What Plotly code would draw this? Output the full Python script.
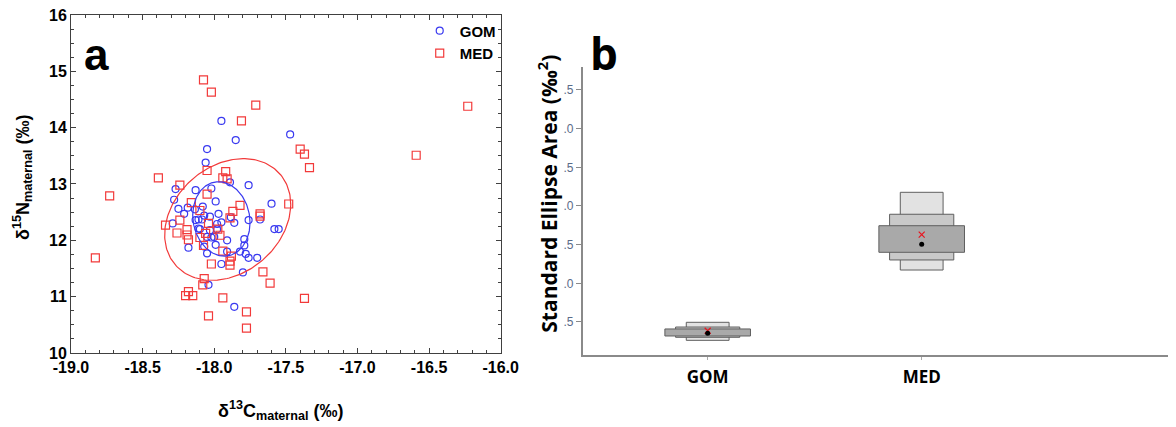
import numpy as np
import plotly.graph_objects as go

# ---- panel a: maternal isotope values ----
gom_d13c = [-17.95, -17.47, -17.85, -18.05, -18.06, -17.76, -17.89, -18.27, -18.13, -18.02,
            -18.28, -18.25, -18.21, -18.185, -18.08, -17.99, -18.29, -18.13, -18.11, -18.07,
            -18.03, -17.97, -17.95, -17.98, -17.86, -17.76, -17.60, -17.58, -17.55, -17.68,
            -18.10, -18.03, -18.05, -18.02, -17.91, -17.99, -18.18, -18.07, -18.05, -17.79,
            -17.79, -17.82, -17.78, -17.76, -17.70, -17.91, -17.95, -17.80, -18.04, -17.86,
            -18.135, -17.884, -18.085, -18.11, -17.98, -18.00]
gom_d15n = [14.12, 13.88, 13.78, 13.62, 13.38, 12.98, 13.03, 12.91, 12.89, 12.92,
            12.72, 12.56, 12.47, 12.58, 12.60, 12.69, 12.30, 12.36, 12.37, 12.44,
            12.42, 12.47, 12.32, 12.29, 12.31, 12.36, 12.65, 12.20, 12.20, 12.37,
            12.20, 12.18, 12.06, 12.05, 12.00, 11.92, 11.87, 11.89, 11.77, 12.02,
            11.91, 11.80, 11.76, 11.69, 11.69, 11.80, 11.58, 11.43, 11.21, 10.82,
            12.55, 12.41, 12.37, 12.21, 12.195, 12.06]

med_d13c = [-18.075, -18.02, -17.71, -17.81, -16.23, -17.40, -17.37, -17.335, -16.59, -18.05,
            -17.92, -17.94, -17.91, -18.39, -18.73, -18.24, -18.05, -18.83, -18.16, -17.82,
            -17.87, -17.89, -18.10, -17.68, -17.68, -17.48, -18.34, -18.24, -18.26, -18.19,
            -18.19, -18.18, -18.04, -17.975, -17.96, -18.06, -18.10, -18.075, -17.94, -17.88,
            -17.89, -17.89, -18.02, -17.66, -17.61, -18.07, -18.08, -18.18, -18.20, -18.15,
            -17.94, -17.37, -18.04, -17.775, -17.775]
med_d15n = [14.85, 14.63, 14.40, 14.12, 14.38, 13.62, 13.53, 13.29, 13.51, 13.24,
            13.22, 13.11, 13.09, 13.11, 12.79, 12.98, 12.82, 11.69, 12.67, 12.62,
            12.515, 12.40, 12.53, 12.47, 12.43, 12.645, 12.27, 12.36, 12.13, 12.19,
            12.095, 12.01, 12.30, 12.20, 12.09, 12.125, 12.05, 11.91, 11.81, 11.72,
            11.63, 11.56, 11.58, 11.44, 11.24, 11.32, 11.21, 11.09, 11.02, 11.02,
            10.98, 10.97, 10.66, 10.73, 10.44]

# standard ellipses: centre, sd on each axis, correlation
gom_ellipse = dict(cx=-17.95, cy=12.38, sx=0.20, sy=0.66, r=-0.10)
med_ellipse = dict(cx=-17.906, cy=12.37, sx=0.44, sy=1.08, r=0.25)

x_ticks = [-19.0, -18.5, -18.0, -17.5, -17.0, -16.5, -16.0]
x_tick_labels = ["-19.0", "-18.5", "-18.0", "-17.5", "-17.0", "-16.5", "-16.0"]
y_ticks = [10, 11, 12, 13, 14, 15, 16]

# ---- panel b: SEA posterior (credible intervals) ----
groups = ["GOM", "MED"]
ci95_low = [0.263, 1.172]
ci95_high = [0.496, 2.177]
ci75_low = [0.302, 1.302]
ci75_high = [0.435, 1.893]
ci50_low = [0.319, 1.401]
ci50_high = [0.410, 1.745]
sea_mode = [0.354, 1.505]
sea_c = [0.387, 1.629]
b_ticks = [0.5, 1.0, 1.5, 2.0, 2.5, 3.0, 3.5]
b_tick_labels = [".5", ".0", ".5", ".0", ".5", ".0", ".5"]

BLUE = "#3a3af0"
RED = "#f23a3a"
BOLD = "Liberation Sans"


def ellipse_xy(e, n=200):
    t = np.linspace(0, 2 * np.pi, n)
    x = e["cx"] + e["sx"] * np.cos(t)
    y = e["cy"] + e["sy"] * (e["r"] * np.cos(t) + np.sqrt(1 - e["r"] ** 2) * np.sin(t))
    return x, y


fig = go.Figure()

fig.add_trace(go.Scatter(x=gom_d13c, y=gom_d15n, mode="markers", name="GOM",
                         marker=dict(symbol="circle-open", size=7, color=BLUE, line=dict(width=1.2)),
                         xaxis="x", yaxis="y"))
fig.add_trace(go.Scatter(x=med_d13c, y=med_d15n, mode="markers", name="MED",
                         marker=dict(symbol="square-open", size=8, color=RED, line=dict(width=1.2)),
                         xaxis="x", yaxis="y"))

ex, ey = ellipse_xy(gom_ellipse)
fig.add_trace(go.Scatter(x=ex, y=ey, mode="lines", line=dict(color=BLUE, width=1.2),
                         showlegend=False, hoverinfo="skip"))
ex, ey = ellipse_xy(med_ellipse)
fig.add_trace(go.Scatter(x=ex, y=ey, mode="lines", line=dict(color=RED, width=1.2),
                         showlegend=False, hoverinfo="skip"))

# panel b boxes: widest interval drawn narrowest, then stacked on top
xpos = [1, 2]
for lo, hi, w, col in [(ci95_low, ci95_high, 0.20, "#e2e2e2"),
                       (ci75_low, ci75_high, 0.30, "#c9c9c9"),
                       (ci50_low, ci50_high, 0.40, "#a9a9a9")]:
    fig.add_trace(go.Bar(x=xpos, y=[h - l for l, h in zip(lo, hi)], base=lo, width=w,
                         marker=dict(color=col, line=dict(color="#5f5f5f", width=1)),
                         showlegend=False, hoverinfo="skip", xaxis="x2", yaxis="y2"))

fig.add_trace(go.Scatter(x=xpos, y=sea_c, mode="markers", showlegend=False,
                         marker=dict(symbol="x-thin", size=6, line=dict(color="#e8141e", width=1.2)),
                         xaxis="x2", yaxis="y2"))
fig.add_trace(go.Scatter(x=xpos, y=sea_mode, mode="markers", showlegend=False,
                         marker=dict(symbol="circle", size=5, color="black"),
                         xaxis="x2", yaxis="y2"))

axis_a = dict(showline=True, linecolor="#404040", linewidth=1, mirror="allticks",
              ticks="inside", ticklen=5, tickcolor="#404040", showgrid=False, zeroline=False,
              automargin=False, ticklabeloverflow="allow",
              tickfont=dict(family=BOLD, size=16, color="black", weight="bold"))

# the page body adds an 8px offset, domains below already account for it
fig.update_layout(
    width=1176, height=427,
    margin=dict(l=0, r=0, t=0, b=0),
    paper_bgcolor="white", plot_bgcolor="white",
    barmode="overlay",
    xaxis=dict(domain=[0.05357, 0.41896], range=[-19.0, -16.0], tickvals=x_ticks,
               ticktext=x_tick_labels, anchor="y",
               minor=dict(dtick=0.1, ticks="inside", ticklen=3, tickcolor="#404040"),
               **axis_a),
    yaxis=dict(domain=[0.19204, 0.98361], range=[10, 16], tickvals=y_ticks, anchor="x",
               minor=dict(dtick=0.25, ticks="inside", ticklen=3, tickcolor="#404040"),
               **axis_a),
    xaxis2=dict(domain=[0.48869, 1.0], range=[0.416, 3.2257], anchor="y2", automargin=False,
                tickvals=xpos, ticktext=groups, ticks="outside", ticklen=3, tickcolor="#aaaaaa",
                showline=True, linecolor="#8a8a8a", linewidth=1.5, showgrid=False, zeroline=False,
                ticklabelstandoff=3,
                tickfont=dict(family="Open Sans", size=17, color="black", weight="bold")),
    yaxis2=dict(domain=[0.18735, 0.86183], range=[0.0733, 3.797], anchor="x2", automargin=False,
                tickvals=b_ticks, ticktext=b_tick_labels, ticks="outside", ticklen=5,
                tickcolor="#8a8a8a", showline=True, linecolor="#8a8a8a", linewidth=1.5,
                showgrid=False, zeroline=False,
                tickfont=dict(family="Liberation Sans Narrow, Liberation Sans", size=12, color="#5a6a88")),
    legend=dict(x=0.3501, y=0.985, xanchor="left", yanchor="top", bgcolor="rgba(0,0,0,0)",
                itemwidth=30, tracegroupgap=0,
                font=dict(family=BOLD, size=15, color="black", weight="bold")),
    showlegend=True,
)

fig.add_annotation(text="δ<sup>13</sup>C<sub>maternal</sub> (‰)", xref="paper", yref="paper",
                   x=0.2313, y=0.0585, xanchor="center", yanchor="middle", showarrow=False,
                   font=dict(family=BOLD, size=18, color="black", weight="bold"))
fig.add_annotation(text="δ<sup>15</sup>N<sub>maternal</sub> (‰)", xref="paper", yref="paper",
                   x=0.01276, y=0.6019, xanchor="center", yanchor="middle", textangle=-90,
                   showarrow=False,
                   font=dict(family=BOLD, size=18, color="black", weight="bold"))
fig.add_annotation(text="Standard Ellipse Area (‰<sup>2</sup>)", xref="paper", yref="paper",
                   x=0.4581, y=0.5644, xanchor="center", yanchor="middle", textangle=-90,
                   showarrow=False,
                   font=dict(family="Open Sans", size=21, color="black", weight="bold"))
fig.add_annotation(text="a", xref="paper", yref="paper", x=0.07526, y=0.8906,
                   xanchor="center", yanchor="middle", showarrow=False,
                   font=dict(family=BOLD, size=44, color="black", weight="bold"))
fig.add_annotation(text="b", xref="paper", yref="paper", x=0.5068, y=0.8946,
                   xanchor="center", yanchor="middle", showarrow=False,
                   font=dict(family="Open Sans", size=44, color="black", weight="bold"))

fig.write_html("out.html")
